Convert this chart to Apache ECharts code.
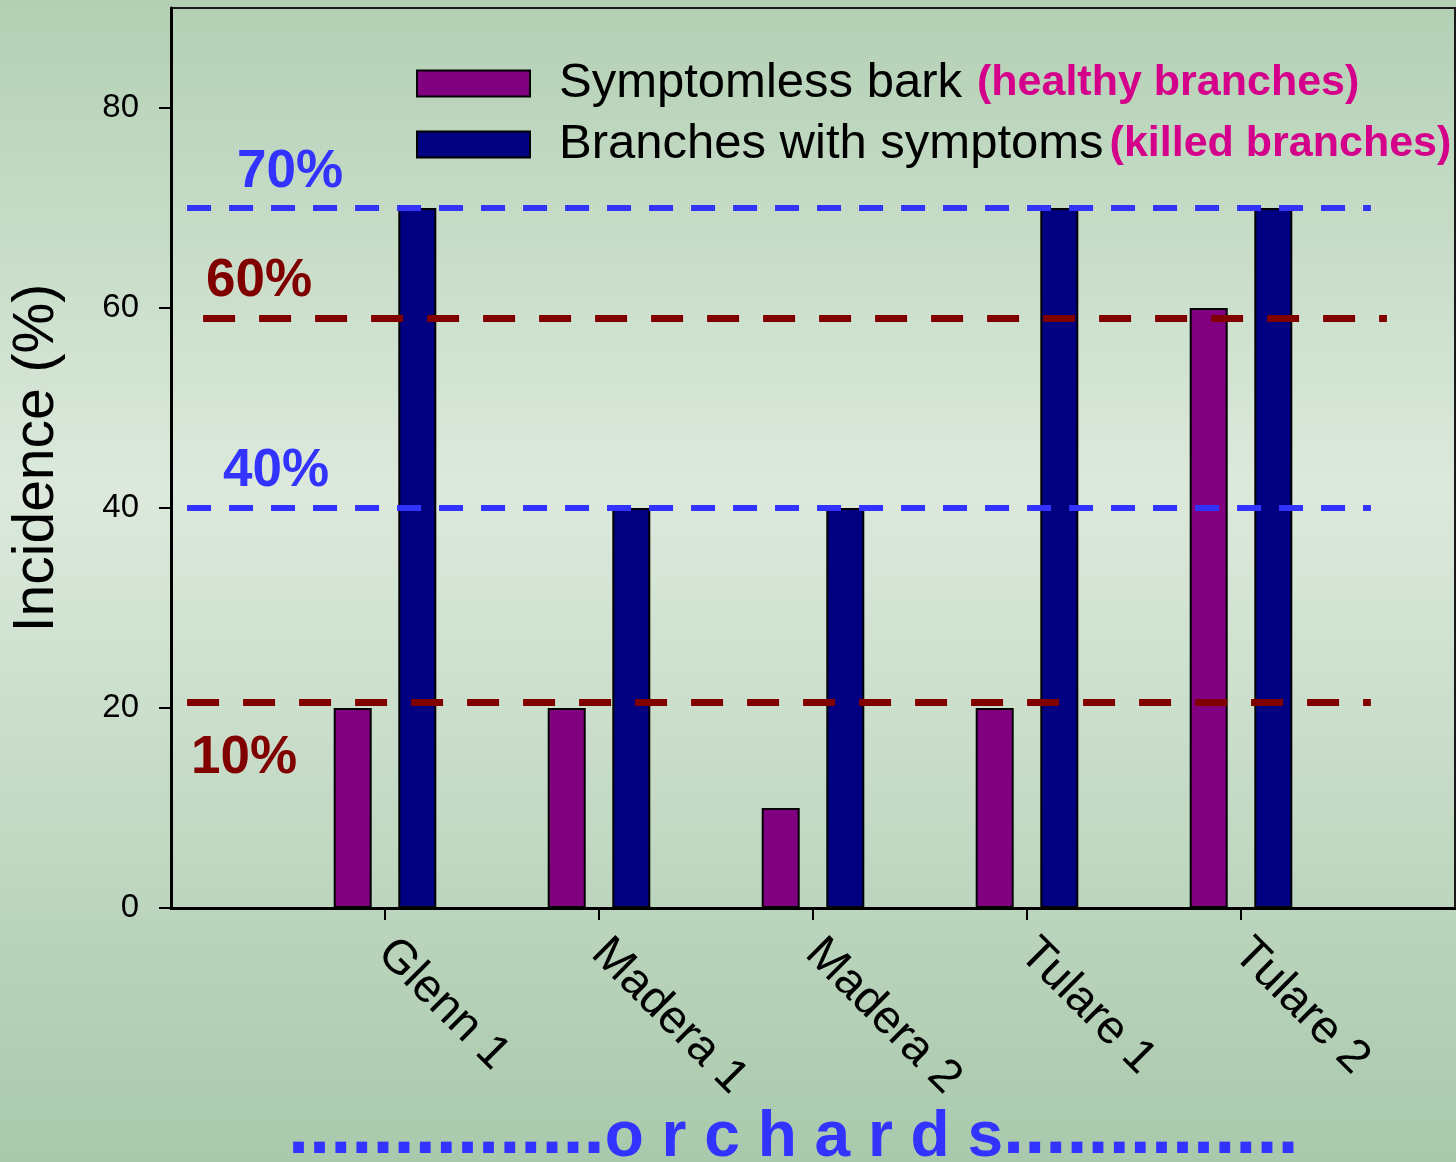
<!DOCTYPE html>
<html>
<head>
<meta charset="utf-8">
<script src="https://cdn.jsdelivr.net/npm/echarts@6/dist/echarts.min.js"></script>
<style>
	html, body { margin: 0; padding: 0; }
	#myCharts { width: 1456px; height: 1162px; }
</style>
</head>
<body>
<div id="myCharts"></div>
<script>
	// orchards on the x axis, one slot each (axis runs 0..6)
	const orchards = ['Glenn 1', 'Madera 1', 'Madera 2', 'Tulare 1', 'Tulare 2'];
	const seriesNames = ['Symptomless bark', 'Branches with symptoms'];
	const seriesNotes = ['(healthy branches)', '(killed branches)'];
	const symptomless = [20, 20, 10, 20, 60];
	const withSymptoms = [70, 40, 40, 70, 70];
	const yTicks = [0, 20, 40, 60, 80];
	// dashed reference lines
	const refValues = [70, 59, 40, 20.6];
	const refLabels = ['70%', '60%', '40%', '10%'];

	const FONT = 'Liberation Sans, Arial, sans-serif';
	const BLUE = '#3333ff';
	const RED = '#800000';

	const refStyle = [
		{ from: 0.075, to: 5.607, color: BLUE, width: 6, dash: [24, 18], pos: 'insideStartTop', offset: [50, -9] },
		{ from: 0.150, to: 5.682, color: RED, width: 7, dash: [32, 24], pos: 'insideStartTop', offset: [3, -10] },
		{ from: 0.075, to: 5.607, color: BLUE, width: 6, dash: [24, 18], pos: 'insideStartTop', offset: [36, -10] },
		{ from: 0.075, to: 5.607, color: RED, width: 7, dash: [32, 24], pos: 'insideStartBottom', offset: [4, 30] }
	];

	let mychart = echarts.init(document.getElementById('myCharts'));

	let option = {
		animation: false,
		backgroundColor: {
			type: 'linear', x: 0, y: 0, x2: 0, y2: 1,
			colorStops: [
				{ offset: 0, color: '#b3d0b4' },
				{ offset: 0.42, color: '#dce9dc' },
				{ offset: 1, color: '#a9c9ac' }
			]
		},
		grid: {
			left: 171, right: 1, top: 8, bottom: 254,
			show: true, borderColor: '#1a1a1a', borderWidth: 2,
			backgroundColor: 'transparent'
		},
		legend: {
			orient: 'vertical',
			left: 416, top: 59,
			padding: 0,
			itemWidth: 113, itemHeight: 26, itemGap: 12,
			selectedMode: false,
			icon: 'rect',
			data: seriesNames,
			formatter: function (name) {
				let i = seriesNames.indexOf(name);
				return '{a|' + name + '}{' + (i === 0 ? 'b' : 'c') + '|' + seriesNotes[i] + '}';
			},
			textStyle: {
				rich: {
					a: { fontFamily: FONT, fontSize: 49, lineHeight: 50, color: '#000', padding: [0, 0, 0, 24] },
					b: { fontFamily: FONT, fontSize: 43, fontWeight: 'bold', color: '#d4008c', lineHeight: 50, padding: [0, 0, 0, 15] },
					c: { fontFamily: FONT, fontSize: 43, fontWeight: 'bold', color: '#d4008c', lineHeight: 50, padding: [0, 0, 0, 6] }
				}
			}
		},
		xAxis: {
			type: 'value',
			min: 0, max: 6, interval: 1,
			splitLine: { show: false },
			axisLine: { lineStyle: { color: '#000', width: 3 } },
			axisTick: { show: true, length: 12, customValues: [1, 2, 3, 4, 5], lineStyle: { color: '#000', width: 2 } },
			axisLabel: {
				customValues: [1, 2, 3, 4, 5],
				formatter: function (v) { return orchards[v - 1] || ''; },
				rotate: -45,
				margin: 38,
				fontFamily: FONT, fontSize: 47, color: '#000'
			}
		},
		yAxis: {
			type: 'value',
			min: 0, max: 90,
			name: 'Incidence (%)',
			nameLocation: 'middle',
			nameGap: 105,
			nameTextStyle: { fontFamily: FONT, fontSize: 57, color: '#000' },
			splitLine: { show: false },
			axisLine: { show: true, lineStyle: { color: '#000', width: 3 } },
			axisTick: { show: true, length: 12, customValues: yTicks, lineStyle: { color: '#000', width: 2 } },
			axisLabel: { customValues: yTicks, margin: 32, fontFamily: FONT, fontSize: 33, color: '#000' }
		},
		series: [
			{
				name: seriesNames[0],
				type: 'bar',
				barWidth: 38,
				barGap: '70%',
				itemStyle: { color: '#800080', borderColor: '#000', borderWidth: 2 },
				data: symptomless.map(function (v, i) { return [i + 1, v]; })
			},
			{
				name: seriesNames[1],
				type: 'bar',
				barWidth: 38,
				barGap: '70%',
				itemStyle: { color: '#000080', borderColor: '#000', borderWidth: 2 },
				data: withSymptoms.map(function (v, i) { return [i + 1, v]; })
			},
			{
				// holder for the dashed reference lines (plain coords, no bar offset)
				name: 'ref',
				type: 'line',
				data: [],
				silent: true,
				markLine: {
					silent: true,
					symbol: 'none',
					data: refValues.map(function (v, i) {
						let s = refStyle[i];
						return [
							{
								coord: [s.from, v],
								lineStyle: { color: s.color, width: s.width, type: s.dash },
								label: {
									show: true, formatter: refLabels[i], position: s.pos, distance: 0,
									offset: s.offset, color: s.color,
									fontFamily: FONT, fontSize: 53, fontWeight: 'bold'
								}
							},
							{ coord: [s.to, v] }
						];
					})
				}
			}
		],
		graphic: [
			{
				type: 'text',
				left: 288, top: 1094,
				silent: true,
				style: {
					text: '{d|...............}{w|o r c h a r d s}{d|..............}',
					rich: {
						d: { fontFamily: FONT, fontSize: 76, fontWeight: 'bold', fill: BLUE, verticalAlign: 'bottom' },
						w: { fontFamily: FONT, fontSize: 64, fontWeight: 'bold', fill: BLUE, verticalAlign: 'bottom' }
					}
				}
			}
		]
	};

	mychart.setOption(option);
	window.onresize = mychart.resize;
</script>
</body>
</html>
